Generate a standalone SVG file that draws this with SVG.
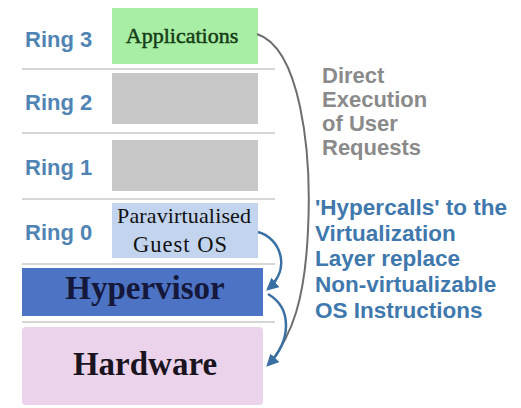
<svg xmlns="http://www.w3.org/2000/svg" width="521" height="408" viewBox="0 0 521 408">
<style>
.ring{font-family:"Liberation Sans",Arial,sans-serif;font-weight:bold;font-size:22px;fill:#4f84b4}
.sep{stroke:#d6d6d6;stroke-width:2}
.serif{font-family:"Liberation Serif","Times New Roman",serif}
.gray{font-family:"Liberation Sans",Arial,sans-serif;font-weight:bold;font-size:22px;fill:#8a8a8a}
.blue{font-family:"Liberation Sans",Arial,sans-serif;font-weight:bold;font-size:22.5px;fill:#3f78ad}
</style>
<defs>
<marker id="ah" viewBox="0 0 10 10" refX="8" refY="5" markerWidth="5" markerHeight="5" orient="auto" markerUnits="strokeWidth">
<path d="M0,0 L10,5 L0,10 z" fill="#3a6fa2"/>
</marker>
</defs>
<rect width="521" height="408" fill="#ffffff"/>
<g id="separators">
<line class="sep" x1="22" y1="69" x2="275" y2="69"/>
<line class="sep" x1="22" y1="133" x2="275" y2="133"/>
<line class="sep" x1="22" y1="199" x2="275" y2="199"/>
<line class="sep" x1="22" y1="264" x2="275" y2="264"/>
<line class="sep" x1="22" y1="322" x2="275" y2="322"/>
</g>
<g id="ring3">
<text class="ring" x="25" y="47">Ring 3</text>
<rect x="112" y="8" width="146" height="56" fill="#a8eea4"/>
<text class="serif" x="182" y="43" font-size="22" fill="#163d16" stroke="#163d16" stroke-width="0.5" text-anchor="middle">Applications</text>
</g>
<g id="ring2">
<text class="ring" x="25" y="110">Ring 2</text>
<rect x="112" y="73" width="146" height="51" fill="#c8c8c8"/>
</g>
<g id="ring1">
<text class="ring" x="25" y="175">Ring 1</text>
<rect x="112" y="140" width="146" height="51" fill="#c8c8c8"/>
</g>
<g id="ring0">
<text class="ring" x="25" y="240">Ring 0</text>
<rect x="112" y="203" width="146" height="55" fill="#c3d5ee"/>
<text class="serif" x="184" y="223" font-size="22" fill="#111" text-anchor="middle" textLength="134">Paravirtualised</text>
<text class="serif" x="180" y="252" font-size="22.5" fill="#111" text-anchor="middle" textLength="94">Guest OS</text>
</g>
<g id="hypervisor">
<rect x="22" y="268" width="241" height="48" fill="#4d73c4"/>
<text class="serif" x="145" y="299" font-size="33" font-weight="bold" fill="#15183a" text-anchor="middle">Hypervisor</text>
</g>
<g id="hardware">
<rect x="22" y="327" width="241" height="78" rx="4" fill="#ebd3eb"/>
<text class="serif" x="145" y="375" font-size="33" font-weight="bold" fill="#1a1420" text-anchor="middle">Hardware</text>
</g>
<g id="connectors" fill="none">
<path d="M257,34 C300,48 312,150 308,230 C305,300 292,335 270,363" stroke="#6e6e6e" stroke-width="2"/>
<path d="M258,232 C280,238 292,268 268,289" stroke="#3a6fa2" stroke-width="2.5" marker-end="url(#ah)"/>
<path d="M268,294 C292,308 292,340 268,365" stroke="#3a6fa2" stroke-width="2.5" marker-end="url(#ah)"/>
</g>
<g id="notes">
<text class="gray" x="322" y="83">Direct</text>
<text class="gray" x="322" y="107">Execution</text>
<text class="gray" x="322" y="131">of User</text>
<text class="gray" x="322" y="155">Requests</text>
<text class="blue" x="315" y="215">'Hypercalls' to the</text>
<text class="blue" x="315" y="241">Virtualization</text>
<text class="blue" x="315" y="266">Layer replace</text>
<text class="blue" x="315" y="292">Non-virtualizable</text>
<text class="blue" x="315" y="318">OS Instructions</text>
</g>
</svg>
